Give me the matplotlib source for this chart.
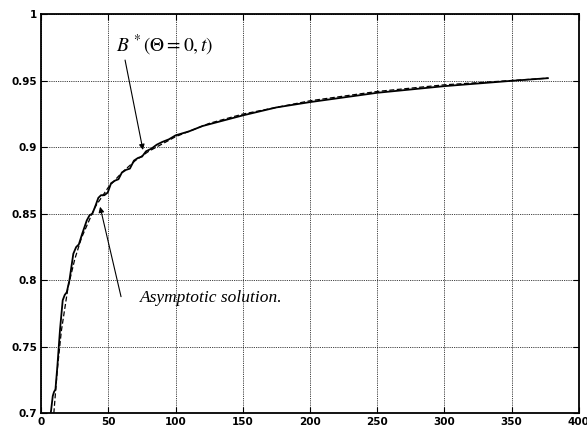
import matplotlib.pyplot as plt

plt.rcParams['mathtext.fontset'] = 'stix'

# oscillating solution B*(Theta=0, t)
t_num = [7.1, 8.6, 9.5, 10.6, 12.0, 14.0, 16.0, 17.5, 19.0, 21.0, 23.9, 26.0, 28.0,
         30.5, 33.9, 36.0, 38.0, 40.0, 42.5, 44.5, 47.0, 49.5, 52.0, 55.0, 57.5,
         60.0, 63.0, 66.0, 69.0, 72.0, 75.0, 78.0, 82.0, 86.0, 90.0, 95.0, 100,
         110, 120, 135, 150, 175, 200, 250, 300, 350, 377]
b_num = [0.700, 0.713, 0.716, 0.718, 0.735, 0.763, 0.785, 0.789, 0.791, 0.800,
         0.820, 0.825, 0.827, 0.835, 0.845, 0.849, 0.850, 0.855, 0.862, 0.864,
         0.864, 0.866, 0.873, 0.875, 0.876, 0.881, 0.883, 0.884, 0.890, 0.892,
         0.893, 0.897, 0.899, 0.902, 0.904, 0.906, 0.909, 0.912, 0.916, 0.920,
         0.924, 0.930, 0.934, 0.941, 0.946, 0.950, 0.952]

# asymptotic solution
t_asy = [9.4, 12, 15, 20, 25, 30, 40, 50, 60, 70, 80, 100, 125, 150, 200, 250, 300, 377]
b_asy = [0.700, 0.733, 0.762, 0.795, 0.816, 0.832, 0.855, 0.870, 0.881, 0.890,
         0.897, 0.908, 0.918, 0.925, 0.935, 0.942, 0.947, 0.952]

x_ticks = [0, 50, 100, 150, 200, 250, 300, 350, 400]
y_ticks = [0.7, 0.75, 0.8, 0.85, 0.9, 0.95, 1]
y_labels = ['0.7', '0.75', '0.8', '0.85', '0.9', '0.95', '1']

fig = plt.figure(figsize=(5.87, 4.29), dpi=100)
ax = fig.add_axes([0.0702, 0.0366, 0.9158, 0.93])

ax.plot(t_asy, b_asy, color='black', lw=0.9, ls=(0, (4, 2)))
ax.plot(t_num, b_num, color='black', lw=1.3)

ax.set_xlim(0, 400)
ax.set_ylim(0.7, 1)
ax.set_xticks(x_ticks)
ax.set_yticks(y_ticks)
ax.set_yticklabels(y_labels)
ax.tick_params(direction='in', length=4, width=0.8, top=True, right=True,
               labelsize=7.5, pad=3)
for lab in ax.get_xticklabels() + ax.get_yticklabels():
    lab.set_fontweight('bold')
ax.grid(True, color='black', ls=(0, (1, 1.2)), lw=0.6)
for s in ax.spines.values():
    s.set_linewidth(1.3)

arrow = dict(arrowstyle='-|>', color='black', lw=0.8, mutation_scale=8,
             shrinkA=0, shrinkB=0)
ax.annotate('', xy=(75.7, 0.898), xytext=(62.4, 0.9656), arrowprops=arrow)
ax.annotate('', xy=(43.8, 0.8553), xytext=(59.4, 0.7877), arrowprops=arrow)

ax.text(55.7, 0.9717, r'$B^{\,*}(\Theta = 0,t)$', fontsize=14, ha='left', va='baseline')
ax.text(73.5, 0.7864, 'Asymptotic solution.', fontsize=12.5, style='italic',
        family='Liberation Serif', ha='left', va='center')

fig.savefig('out.png', dpi=100)
